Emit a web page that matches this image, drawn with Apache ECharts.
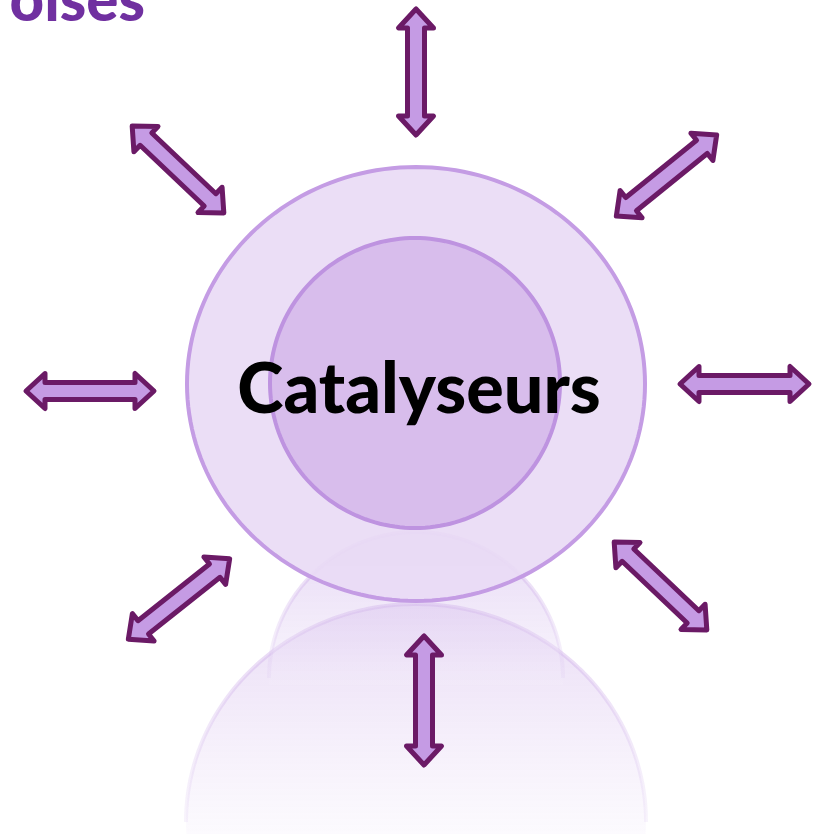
<!DOCTYPE html>
<html><head><meta charset="utf-8">
<script src="https://cdn.jsdelivr.net/npm/echarts@6/dist/echarts.min.js"></script>
<style>html,body{margin:0;padding:0;background:#fff}#c{width:825px;height:834px}</style>
</head><body><div id="c"></div>
<script>
// Diagram values (data space = 825 x 834 board)
const centerLabel = 'Catalyseurs';
const titleText = 'oises';
// arrows: [x1, y1, x2, y2] tip to tip
const arrows = [
  [416, 6, 416, 138],
  [130, 124, 226, 215],
  [614, 218, 719, 133],
  [677, 384, 812, 384],
  [23, 391, 157, 391],
  [126, 641, 232, 557],
  [612, 540, 709, 632],
  [424, 633, 424, 768]
];
// discs: [cx, cy, rx, ry]
const outerDisc = [416, 384, 229, 217];
const innerDisc = [415, 383, 145, 145];
// reflections: [cx, cy, rx, ry, cutY]
const outerReflection = [416, 822, 230, 218, 834];
const innerReflection = [416, 678, 147, 146, 685];

const chart = echarts.init(document.getElementById('c'), null, {renderer: 'canvas'});

function ellipsePts(api, cx, cy, rx, ry, cut) {
  const pts = [];
  const N = 180;
  for (let i = 0; i <= N; i++) {
    const t = (i / N) * Math.PI * 2;
    let x = cx + rx * Math.cos(t), y = cy + ry * Math.sin(t);
    if (cut != null && y > cut) y = cut;
    pts.push(api.coord([x, y]));
  }
  return pts;
}
function arcPts(api, cx, cy, rx, ry, cut) {
  const pts = [];
  const N = 180;
  for (let i = 0; i <= N; i++) {
    const t = Math.PI + (i / N) * Math.PI;
    const x = cx + rx * Math.cos(t), y = cy + ry * Math.sin(t);
    if (y <= cut) pts.push(api.coord([x, y]));
  }
  return pts;
}

const option = {
  animation: false,
  grid: {left: 0, right: 0, top: 0, bottom: 0},
  xAxis: {type: 'value', min: 0, max: 825, show: false},
  yAxis: {type: 'value', min: 0, max: 834, inverse: true, show: false},
  series: [
    {
      type: 'custom', name: 'reflections', silent: true, z: 1,
      data: [outerReflection, innerReflection],
      renderItem: function (params, api) {
        const d = [api.value(0), api.value(1), api.value(2), api.value(3), api.value(4)];
        const isOuter = params.dataIndex === 0;
        const fill = new echarts.graphic.LinearGradient(0, 0, 0, 1, isOuter ? [
          {offset: 0, color: 'rgba(226,208,242,0.75)'},
          {offset: 1, color: 'rgba(250,247,253,0.6)'}
        ] : [
          {offset: 0, color: 'rgba(210,184,236,0.55)'},
          {offset: 1, color: 'rgba(243,236,250,0.45)'}
        ]);
        const strokeG = new echarts.graphic.LinearGradient(0, 0, 0, 1, [
          {offset: 0, color: 'rgba(196,156,228,0.45)'},
          {offset: 1, color: 'rgba(220,200,240,0.2)'}
        ]);
        return {
          type: 'group',
          children: [
            {type: 'polygon', shape: {points: ellipsePts(api, d[0], d[1], d[2], d[3], d[4])},
             style: {fill: fill, stroke: null}},
            {type: 'polyline', shape: {points: arcPts(api, d[0], d[1], d[2], d[3], d[4])},
             style: {fill: null, stroke: strokeG, lineWidth: 4}}
          ]
        };
      }
    },
    {
      type: 'custom', name: 'discs', silent: true, z: 2,
      data: [outerDisc, innerDisc],
      renderItem: function (params, api) {
        const d = [api.value(0), api.value(1), api.value(2), api.value(3)];
        const outer = params.dataIndex === 0;
        return {
          type: 'polygon',
          shape: {points: ellipsePts(api, d[0], d[1], d[2], d[3])},
          style: {
            fill: outer ? 'rgba(233,219,245,0.92)' : '#D8BDEC',
            stroke: outer ? '#C49CE4' : '#BE93E0',
            lineWidth: 4
          }
        };
      }
    },
    {
      type: 'custom', name: 'arrows', silent: true, z: 3,
      data: arrows,
      renderItem: function (params, api) {
        const a = api.coord([api.value(0), api.value(1)]);
        const b = api.coord([api.value(2), api.value(3)]);
        let dx = b[0] - a[0], dy = b[1] - a[1];
        const L = Math.hypot(dx, dy);
        const ux = dx / L, uy = dy / L, nx = -uy, ny = ux;
        const inset = 3, hl = 19, hh = 17.5, sw = 8.5;
        const p1 = [a[0] + ux * inset, a[1] + uy * inset];
        const p2 = [b[0] - ux * inset, b[1] - uy * inset];
        const P = (p, s, t) => [p[0] + ux * s + nx * t, p[1] + uy * s + ny * t];
        const pts = [
          p1, P(p1, hl, hh), P(p1, hl, sw), P(p2, -hl, sw), P(p2, -hl, hh),
          p2, P(p2, -hl, -hh), P(p2, -hl, -sw), P(p1, hl, -sw), P(p1, hl, -hh)
        ];
        return {
          type: 'polygon', shape: {points: pts},
          style: {fill: '#C59BE4', stroke: '#6B1A66', lineWidth: 5, lineJoin: 'round'}
        };
      }
    },
    {
      type: 'custom', name: 'labels', silent: true, z: 4,
      data: [[419, 390]],
      renderItem: function (params, api) {
        const p = api.coord([api.value(0), api.value(1)]);
        return {
          type: 'text',
          style: {
            x: p[0], y: p[1], text: centerLabel, align: 'center', verticalAlign: 'middle',
            fill: '#000', font: '900 70px Lato, "DejaVu Sans", sans-serif'
          }
        };
      }
    }
  ],
  graphic: [
    {type: 'text', right: 680, top: -28, z: 10,
     style: {text: titleText, fill: '#7030A0', font: '900 60px Lato, "DejaVu Sans", sans-serif'}}
  ]
};
chart.setOption(option);
</script></body></html>
